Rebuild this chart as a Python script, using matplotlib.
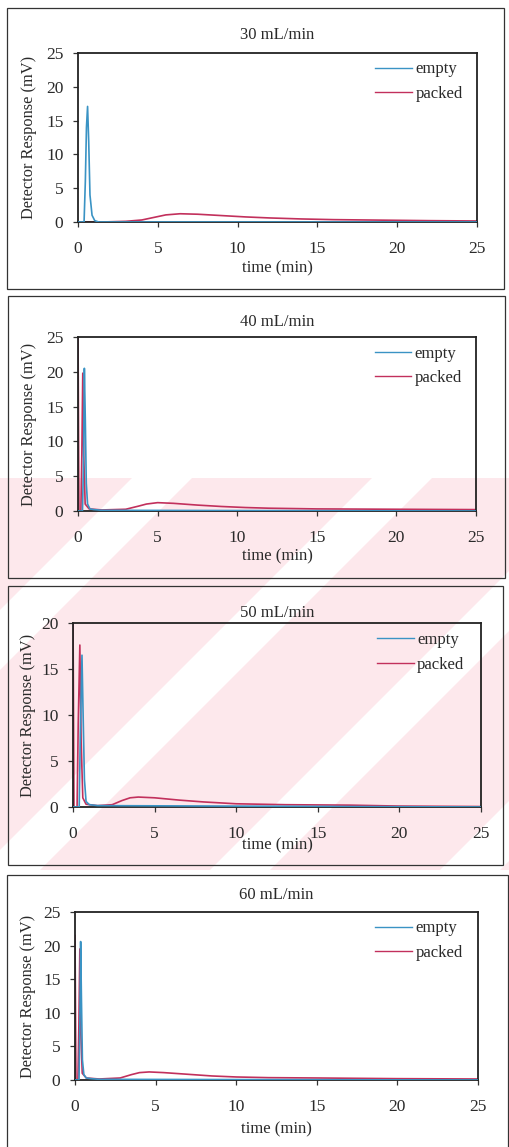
import matplotlib
matplotlib.use("Agg")
import matplotlib.pyplot as plt
from matplotlib.patches import Rectangle, Polygon

plt.rcParams['font.family'] = ['Liberation Serif', 'DejaVu Serif']

W, H = 510, 1147

titles = ["30 mL/min", "40 mL/min", "50 mL/min", "60 mL/min"]
ymaxes = [25, 25, 20, 25]
x_ticks = [0, 5, 10, 15, 20, 25]

# empty column
empty_t = [
    [0, 0.38, 0.46, 0.53, 0.6, 0.67, 0.75, 0.88, 1.05, 1.3, 25],
    [0, 0.28, 0.34, 0.40, 0.46, 0.52, 0.6, 0.75, 1.0, 1.5, 25],
    [0, 0.38, 0.45, 0.55, 0.62, 0.7, 0.8, 1.0, 1.5, 25],
    [0, 0.25, 0.30, 0.35, 0.40, 0.46, 0.55, 0.7, 1.0, 1.5, 25],
]
empty_v = [
    [0, 0, 6, 14, 17.1, 12, 4, 1.0, 0.2, 0, 0],
    [0, 0, 6, 20.5, 13, 4, 1.0, 0.3, 0.2, 0.1, 0],
    [0, 0, 8, 16.5, 10, 3, 0.6, 0.25, 0.15, 0],
    [0, 0, 8, 20.6, 12, 3, 0.8, 0.3, 0.2, 0.1, 0],
]

# packed column
packed_t = [
    [0, 1.5, 3.0, 4.0, 4.8, 5.5, 6.4, 7.5, 9.0, 10.5, 12, 14, 16, 18, 20, 22, 25],
    [0, 0.06, 0.18, 0.24, 0.30, 0.36, 0.45, 0.7, 1.5, 3.0, 3.8, 4.3, 5.0, 6.0, 7.5, 9.0, 10.5, 12, 15, 20, 25],
    [0, 0.06, 0.25, 0.32, 0.42, 0.5, 0.6, 0.8, 1.5, 2.4, 3.0, 3.5, 4.0, 5.0, 6.5, 8.0, 10, 13, 17, 20, 25],
    [0, 0.06, 0.18, 0.24, 0.30, 0.36, 0.45, 0.7, 1.5, 2.8, 3.5, 4.0, 4.6, 5.5, 7.0, 8.5, 10, 12, 15, 20, 25],
]
packed_v = [
    [0, 0, 0.1, 0.3, 0.7, 1.05, 1.22, 1.15, 0.95, 0.75, 0.6, 0.45, 0.35, 0.3, 0.25, 0.2, 0.15],
    [26, 0, 0, 8, 19.8, 8, 1.0, 0.3, 0.15, 0.25, 0.7, 1.0, 1.2, 1.1, 0.85, 0.65, 0.5, 0.4, 0.3, 0.25, 0.2],
    [21, 0, 0, 9, 17.6, 7, 1.0, 0.3, 0.15, 0.25, 0.7, 1.0, 1.08, 1.0, 0.75, 0.55, 0.35, 0.25, 0.2, 0.1, 0.05],
    [21.5, 0, 0, 8, 19.5, 7, 1.0, 0.3, 0.15, 0.3, 0.8, 1.1, 1.2, 1.1, 0.85, 0.6, 0.45, 0.35, 0.3, 0.2, 0.15],
]

series_labels = ["empty", "packed"]
colors = ["#3a93c4", "#c2305c"]

# axes rectangles in pixels: left, right, top, bottom
axes_px = [(78, 477, 53, 222), (78, 476, 337, 511), (73, 481, 623, 807), (75, 478, 912, 1080)]
boxes_px = [(7, 504, 8, 289), (8, 505, 296, 578), (8, 503, 586, 865), (7, 508, 875, 1160)]
title_y = [35, 322, 613, 895]
xlabel_y = [268, 556, 845, 1129]
ylabel_x = [29, 29, 28, 28]

fig = plt.figure(figsize=(W / 100, H / 100), dpi=100)
txt = "#2a2a2a"


def px(x, y):
    return (x / W, 1 - y / H)


# faint pink watermark of the scanned page (drawn behind everything)
pink = "#fde8ec"
fig.patches.append(Polygon([px(0, 478), px(W, 478), px(W, 870), px(0, 870)],
                           closed=True, transform=fig.transFigure, facecolor=pink,
                           edgecolor="none", zorder=-3))
for c in [640, 880, 1110, 1340]:
    half = 30
    y0, y1 = 478, 870
    pts = [px(c - half - y0, y0), px(c + half - y0, y0), px(c + half - y1, y1), px(c - half - y1, y1)]
    fig.patches.append(Polygon(pts, closed=True, transform=fig.transFigure,
                               facecolor="white", edgecolor="none", zorder=-2))

for i in range(4):
    bl, br, bt, bb = boxes_px[i]
    fig.patches.append(Rectangle((bl / W, 1 - bb / H), (br - bl) / W, (bb - bt) / H,
                                 transform=fig.transFigure, fill=False,
                                 edgecolor="#333333", linewidth=0.9, zorder=1))
    l, r, t, b = axes_px[i]
    ax = fig.add_axes([l / W, 1 - b / H, (r - l) / W, (b - t) / H])
    ax.set_facecolor("none")
    ax.plot(empty_t[i], empty_v[i], color=colors[0], lw=1.2, label=series_labels[0], zorder=3)
    ax.plot(packed_t[i], packed_v[i], color=colors[1], lw=1.2, label=series_labels[1], zorder=2)
    ax.set_xlim(0, 25)
    ax.set_ylim(0, ymaxes[i])
    ax.set_xticks(x_ticks)
    ax.set_yticks(list(range(0, ymaxes[i] + 1, 5)))
    ax.tick_params(direction="out", length=3.5, width=0.9, colors="#333333",
                   labelsize=12.5, labelcolor=txt)
    ax.tick_params(axis="y", pad=7)
    ax.tick_params(axis="x", pad=10)
    for s in ax.spines.values():
        s.set_linewidth(1.3)
        s.set_color("#222222")
    fig.text((l + r) / 2 / W, 1 - title_y[i] / H, titles[i], ha="center", va="center",
             fontsize=12, color=txt)
    fig.text((l + r) / 2 / W, 1 - xlabel_y[i] / H, "time (min)", ha="center", va="center",
             fontsize=12, color=txt)
    fig.text(ylabel_x[i] / W, 1 - (t + b) / 2 / H, "Detector Response (mV)", ha="center",
             va="center", rotation=90, fontsize=11.8, color=txt)
    leg = ax.legend(loc="upper left", bbox_to_anchor=(0.745, 0.95), frameon=False,
                    handlelength=2.2, handletextpad=0.2, labelspacing=0.5,
                    borderpad=0, borderaxespad=0, fontsize=12)
    for tx in leg.get_texts():
        tx.set_color(txt)
    for ln in leg.get_lines():
        ln.set_linewidth(1.0)

fig.savefig("out.png", dpi=100)
